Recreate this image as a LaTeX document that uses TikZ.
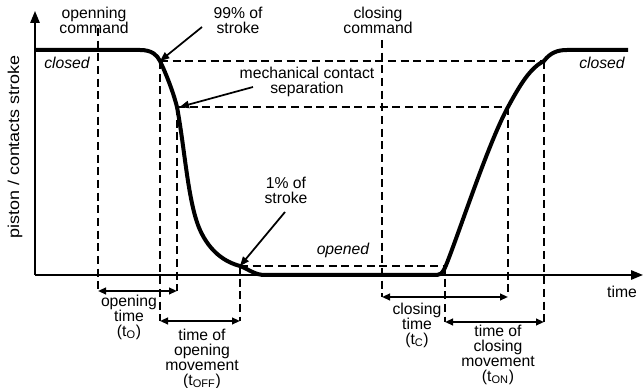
\documentclass[tikz,border=0pt]{standalone}
\usepackage{fontspec}
\setmainfont{Liberation Sans}
\usetikzlibrary{arrows.meta, positioning}

\tikzset{
  lbl/.style={inner sep=0pt, align=center, font=\fontsize{11.8}{11.25}\selectfont},
  state/.style={inner sep=0pt, font=\fontsize{11.8}{11.25}\selectfont\itshape},
  axis/.style={line width=1.4pt, -{Triangle[length=9pt,width=7pt]}},
  guide/.style={line width=1.4pt, dash pattern=on 6pt off 3.5pt},
  pointer/.style={line width=1.3pt, -{Triangle[length=7pt,width=5.5pt]}},
  span/.style={line width=1.4pt, {Triangle[length=6pt,width=5pt]}-{Triangle[length=6pt,width=5pt]}},
  stroke/.style={line width=3pt}
}

\begin{document}
\begin{tikzpicture}[x=0.75pt, y=-0.75pt]
    \useasboundingbox (0,0) rectangle (644,388);

    % Axes
    \coordinate (origin) at (35,275);
    \coordinate (ytop) at (35,11);
    \coordinate (xend) at (643,275);
    \draw[axis] (origin) -- (ytop);
    \draw[axis] (origin) -- (xend);
    \node[lbl] (tlabel) at (622,292) {time};
    \node[lbl, rotate=90] (ylabel) at (15,147) {\scalebox{1.14}[1]{piston / contacts stroke}};

    % Points on the curve
    \coordinate (o99) at (160,61);   % 99% of stroke, opening
    \coordinate (osep) at (177,107); % contact separation, opening
    \coordinate (o1) at (240,266);   % 1% of stroke, opening
    \coordinate (c1) at (445,266);   % 1% of stroke, closing
    \coordinate (csep) at (508,107); % contact separation, closing
    \coordinate (c99) at (544,61);   % 99% of stroke, closing

    % Stroke curve
    \draw[stroke] (35,50) -- (140,50) .. controls (152,50) and (157,55) .. (o99)
        .. controls (168,78) and (174,95) .. (osep)
        .. controls (185,150) and (188,203) .. (200,230)
        .. controls (210,252) and (225,262) .. (o1)
        .. controls (250,270) and (255,275) .. (265,275) -- (437,275)
        .. controls (443,275) and (445,268) .. (450,255)
        .. controls (465,215) and (490,140) .. (csep)
        .. controls (520,85) and (530,68) .. (c99)
        .. controls (550,53) and (557,50) .. (567,50) -- (628,50);

    % Command instants
    \coordinate (opencmd) at (98,28);
    \coordinate (closecmd) at (382,40);

    % Ends of the time spans
    \coordinate (ta) at (98,291);
    \coordinate (tb) at (177,291);
    \coordinate (tc) at (160,321);
    \coordinate (td) at (240,321);
    \coordinate (te) at (382,297);
    \coordinate (tf) at (508,297);
    \coordinate (tg) at (445,322);
    \coordinate (th) at (544,322);

    % Dashed guides
    \draw[guide] (opencmd) -- (ta);
    \draw[guide] (o99) -- (tc);
    \draw[guide] (osep) -- (tb);
    \draw[guide] (o1) -- (td);
    \draw[guide] (closecmd) -- (te);
    \draw[guide] (c1) -- (tg);
    \draw[guide] (csep) -- (tf);
    \draw[guide] (c99) -- (th);
    \draw[guide] (o99) -- (c99);
    \draw[guide] (osep) -- (csep);
    \draw[guide] (o1) -- (c1);

    % Time spans
    \draw[span] (ta) -- (tb);
    \draw[span] (tc) -- (td);
    \draw[span] (te) -- (tf);
    \draw[span] (tg) -- (th);

    % Labels
    \node[lbl] (openlbl) at (94,20) {openning\\command};
    \node[lbl] (closelbl) at (378,20) {closing\\command};
    \node[lbl] (s99) at (238,20) {99\% of\\stroke};
    \node[lbl] (sep) at (307,82) {mechanical contact\\separation};
    \node[lbl] (s1) at (286,190) {1\% of\\stroke};
    \node[state] (closedl) at (67,63) {closed};
    \node[state] (closedr) at (602,63) {closed};
    \node[state] (opened) at (343,250) {opened};

    \node[lbl] (topen) at (129,317) {opening\\time\\(t\textsubscript{O})};
    \node[lbl] (toff) at (202,359) {time of\\opening\\movement\\(t\textsubscript{OFF})};
    \node[lbl] (tclose) at (417,325) {closing\\time\\(t\textsubscript{C})};
    \node[lbl] (ton) at (498,355) {time of\\closing\\movement\\(t\textsubscript{ON})};

    % Pointers
    \coordinate (p99) at (202,27);
    \coordinate (psep) at (253,87);
    \coordinate (p1) at (285,212);
    \draw[pointer] (p99) -- (o99);
    \draw[pointer] (psep) -- ([xshift=2pt]osep);
    \draw[pointer] (p1) -- (o1);

\end{tikzpicture}
\end{document}
